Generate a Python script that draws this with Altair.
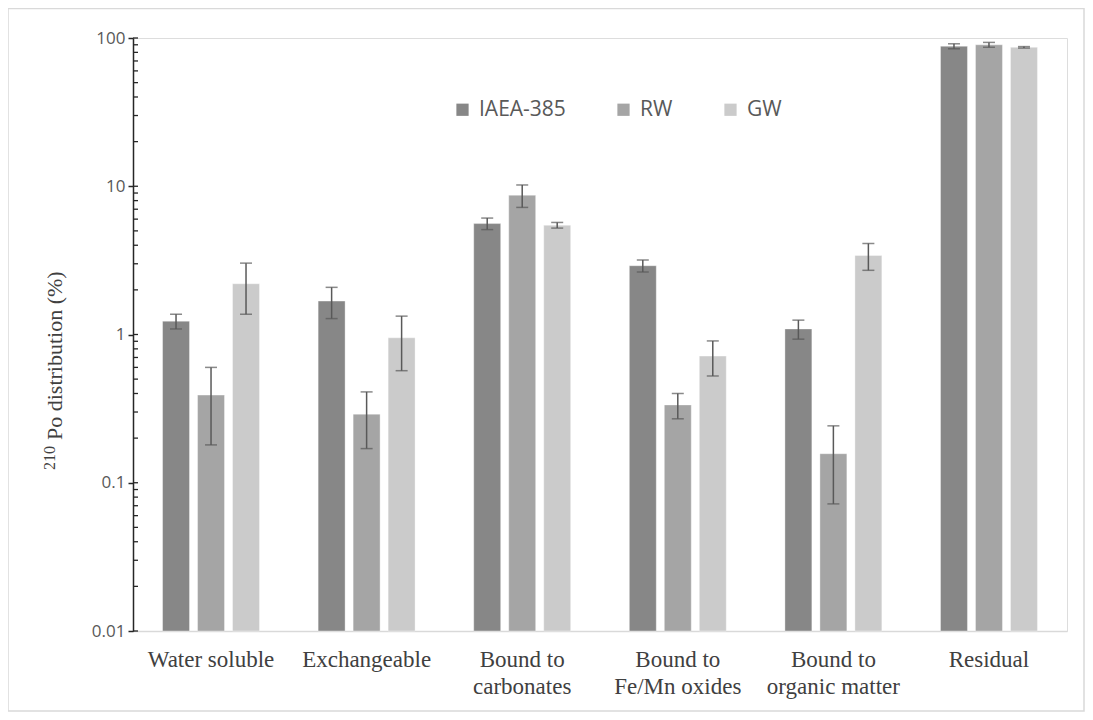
import altair as alt
import pandas as pd

categories = ["Water soluble", "Exchangeable", "Bound to\ncarbonates",
              "Bound to\nFe/Mn oxides", "Bound to\norganic matter", "Residual"]
series = ["IAEA-385", "RW", "GW"]
colors = ["#878787", "#a5a5a5", "#cbcbcb"]

iaea = [1.23, 1.68, 5.6, 2.91, 1.09, 88.0]
iaea_err = [0.14, 0.40, 0.5, 0.27, 0.16, 3.4]
rw = [0.39, 0.29, 8.7, 0.335, 0.157, 90.0]
rw_err = [0.21, 0.12, 1.5, 0.065, 0.085, 3.4]
gw = [2.2, 0.95, 5.46, 0.715, 3.41, 86.5]
gw_err = [0.83, 0.38, 0.24, 0.19, 0.70, 1.0]

y_major = [0.01, 0.1, 1, 10, 100]
y_minor = [m * d for d in [0.01, 0.1, 1, 10] for m in range(2, 10)]
y_title_main = "Po distribution (%)"
y_title_sup = "210"

rows = []
for vals, errs, s in [(iaea, iaea_err, "IAEA-385"), (rw, rw_err, "RW"), (gw, gw_err, "GW")]:
    for c, v, e in zip(categories, vals, errs):
        rows.append({"cat": c, "series": s, "value": v, "base": 0.01, "lo": v - e, "hi": v + e})
df = pd.DataFrame(rows)
ticks_df = pd.DataFrame({"t": y_major + y_minor})

W, H = 934, 593
serif = "Liberation Serif"
sans = "Open Sans"

x_enc = alt.X("cat:N", sort=categories,
              scale=alt.Scale(paddingInner=0.377, paddingOuter=0.19),
              axis=alt.Axis(title=None, domainColor="#d9d9d9", domainWidth=1.5, ticks=False,
                            labelAngle=0, labelFont=serif, labelFontSize=23,
                            labelColor="#404040", labelPadding=17,
                            labelExpr="split(datum.label, '\\n')", labelLineHeight=27,
                            labelBaseline="top"))
xo_enc = alt.XOffset("series:N", sort=series,
                     scale=alt.Scale(paddingInner=0.23, paddingOuter=0))
y_scale = alt.Scale(type="log", domain=[0.01, 100])

bars = alt.Chart(df).mark_bar(stroke="#ffffff", strokeWidth=0.6, strokeOpacity=0.6).encode(
    x=x_enc,
    xOffset=xo_enc,
    y=alt.Y("value:Q", scale=y_scale, stack=None,
            axis=alt.Axis(title=None,
                          values=y_major, labelExpr="format(datum.value, '')",
                          labelFont=sans, labelFontSize=17, labelColor="#595959",
                          labelPadding=3, tickSize=5, tickColor="#262626", tickWidth=1.5,
                          domainColor="#262626", domainWidth=1.5, grid=False)),
    y2="base:Q",
    color=alt.Color("series:N", sort=series,
                    scale=alt.Scale(domain=series, range=colors),
                    legend=alt.Legend(title=None, orient="none", direction="horizontal",
                                      legendX=319, legendY=61, symbolType="square",
                                      symbolSize=150, symbolStrokeWidth=0,
                                      labelFont=sans, labelFontSize=21, labelColor="#595959",
                                      columnPadding=47, labelOffset=6, padding=0)),
)

err = alt.Chart(df).mark_rule(color="#595959", strokeWidth=1.5).encode(
    x=alt.X("cat:N", sort=categories),
    xOffset=alt.XOffset("series:N", sort=series),
    y=alt.Y("lo:Q", scale=y_scale),
    y2="hi:Q",
)
cap_lo = alt.Chart(df).mark_tick(color="#595959", thickness=1.5, size=12).encode(
    x=alt.X("cat:N", sort=categories),
    xOffset=alt.XOffset("series:N", sort=series),
    y=alt.Y("lo:Q", scale=y_scale),
)
cap_hi = alt.Chart(df).mark_tick(color="#595959", thickness=1.5, size=12).encode(
    x=alt.X("cat:N", sort=categories),
    xOffset=alt.XOffset("series:N", sort=series),
    y=alt.Y("hi:Q", scale=y_scale),
)

inner_ticks = alt.Chart(ticks_df).mark_rule(color="#262626", strokeWidth=1.3).encode(
    x=alt.value(0), x2=alt.value(5),
    y=alt.Y("t:Q", scale=y_scale),
)

title_main = alt.Chart(pd.DataFrame({"s": [y_title_main]})).mark_text(
    angle=270, align="left", baseline="alphabetic", font=serif, fontSize=22,
    color="#404040").encode(text="s:N", x=alt.value(-71), y=alt.value(402))
title_sup = alt.Chart(pd.DataFrame({"s": [y_title_sup]})).mark_text(
    angle=270, align="left", baseline="alphabetic", font=serif, fontSize=16,
    color="#404040").encode(text="s:N", x=alt.value(-78), y=alt.value(432))

frame = alt.Chart(pd.DataFrame({"a": [0]})).mark_rect(
    fill=None, stroke="#d9d9d9", strokeWidth=1.5, clip=False).encode(
    x=alt.value(-125), x2=alt.value(W + 17), y=alt.value(-29.5), y2=alt.value(H + 80)
)

chart = alt.layer(bars, err, cap_lo, cap_hi, inner_ticks, title_main, title_sup, frame).properties(
    width=W, height=H,
    autosize=alt.AutoSizeParams(type="none"),
    padding={"left": 125, "top": 30, "right": 18, "bottom": 81},
).configure_view(stroke=None).configure(background="white")

chart.save("out.html", embed_options={"renderer": "svg", "actions": False})
